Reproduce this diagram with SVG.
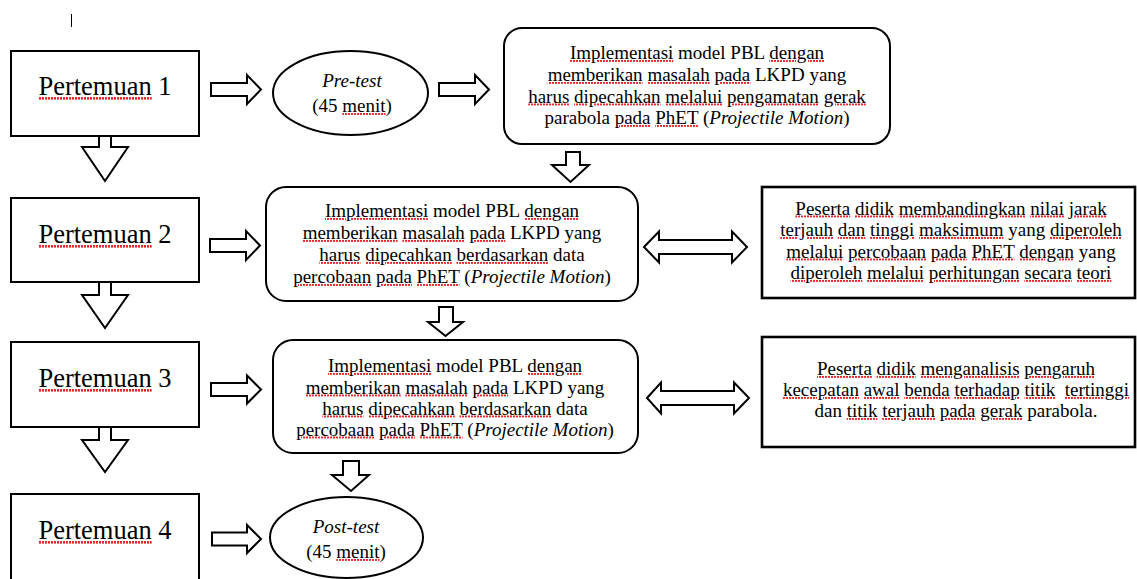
<svg xmlns="http://www.w3.org/2000/svg" width="1137" height="579" viewBox="0 0 1137 579">
<defs>
<pattern id="wv" width="3" height="600" patternUnits="userSpaceOnUse"><rect x="0" y="0" width="2" height="600" fill="#e8292b"/></pattern>
</defs>
<style>
.box{fill:#fff;stroke:#000;stroke-width:2}
.rbox{fill:#fff;stroke:#000;stroke-width:2.6}
.arr{fill:#fff;stroke:#000;stroke-width:2;stroke-linejoin:miter}
text{font-size:19px;text-anchor:middle;fill:#000}
.big{font-size:26.5px}
.i{font-style:italic}
.u{fill:url(#wv);text-decoration:underline}
.k{fill:#000}
</style>
<rect width="1137" height="579" fill="#fff"/>
<line x1="71.5" y1="14" x2="71.5" y2="27" stroke="#000" stroke-width="1"/>
<g id="connectors">
<polygon class="arr" points="99,136 111,136 111,147 128,147 105,181 82,147 99,147"/>
<polygon class="arr" points="99,282 111,282 111,295 128,295 105,328 82,295 99,295"/>
<polygon class="arr" points="99,427 111,427 111,440 128,440 105,472 82,440 99,440"/>
<polygon class="arr" points="211,83 247,83 247,75 261,89.5 247,104 247,96 211,96"/>
<polygon class="arr" points="439,83 475,83 475,75 489,89.5 475,104 475,96 439,96"/>
<polygon class="arr" points="210,239 246,239 246,231 260,245.5 246,260 246,252 210,252"/>
<polygon class="arr" points="211,383 247,383 247,375.5 261,389.5 247,403.5 247,396 211,396"/>
<polygon class="arr" points="212,532.5 247,532.5 247,525 261,539 247,553 247,545.5 212,545.5"/>
<polygon class="arr" points="566,152 580,152 580,165 589,165 570.5,182 552,165 566,165"/>
<polygon class="arr" points="439,307 453,307 453,322 463,322 445.5,336 428,322 439,322"/>
<polygon class="arr" points="343,461 359,461 359,475 369,475 351,491 332,475 343,475"/>
<polygon class="arr" points="644,247 659,231.5 659,240 732,240 732,231.5 747,247 732,262.5 732,254 659,254 659,262.5"/>
<polygon class="arr" points="647,398 661,382.5 661,391 734,391 734,382.5 749,398 734,413.5 734,405 661,405 661,413.5"/>
</g>
<g font-family="Liberation Serif, Tinos, Times New Roman, serif">
<g id="pertemuan1">
<rect class="box" x="11" y="51" width="188" height="85"/>
<text class="big" x="105" y="95"><tspan class="u"><tspan class="k">Pertemuan</tspan></tspan> 1</text>
</g>
<g id="pertemuan2">
<rect class="box" x="11" y="198" width="188" height="84"/>
<text class="big" x="105" y="243"><tspan class="u"><tspan class="k">Pertemuan</tspan></tspan> 2</text>
</g>
<g id="pertemuan3">
<rect class="box" x="11" y="342" width="188" height="85"/>
<text class="big" x="105" y="387"><tspan class="u"><tspan class="k">Pertemuan</tspan></tspan> 3</text>
</g>
<g id="pertemuan4">
<rect class="box" x="11" y="494" width="188" height="92"/>
<text class="big" x="105" y="539"><tspan class="u"><tspan class="k">Pertemuan</tspan></tspan> 4</text>
</g>
<g id="pretest">
<ellipse class="box" cx="350.5" cy="93" rx="77.5" ry="42"/>
<text class="i" x="352" y="87">Pre-test</text>
<text x="352" y="112">(45 <tspan class="u"><tspan class="k">menit</tspan></tspan>)</text>
</g>
<g id="pbl1">
<rect class="box" x="504" y="28" width="386" height="116" rx="18"/>
<text x="697" y="59"><tspan class="u"><tspan class="k">Implementasi</tspan></tspan> model PBL <tspan class="u"><tspan class="k">dengan</tspan></tspan></text>
<text x="697" y="81"><tspan class="u"><tspan class="k">memberikan</tspan></tspan> <tspan class="u"><tspan class="k">masalah</tspan></tspan> <tspan class="u"><tspan class="k">pada</tspan></tspan> LKPD yang</text>
<text x="697" y="102.5"><tspan class="u"><tspan class="k">harus</tspan></tspan> <tspan class="u"><tspan class="k">dipecahkan</tspan></tspan> <tspan class="u"><tspan class="k">melalui</tspan></tspan> <tspan class="u"><tspan class="k">pengamatan</tspan></tspan> <tspan class="u"><tspan class="k">gerak</tspan></tspan></text>
<text x="697" y="124">parabola <tspan class="u"><tspan class="k">pada</tspan></tspan> <tspan class="u"><tspan class="k">PhET</tspan></tspan> (<tspan class="i">Projectile Motion</tspan>)</text>
</g>
<g id="pbl2">
<rect class="box" x="266" y="187" width="372" height="114" rx="20"/>
<text x="452" y="217"><tspan class="u"><tspan class="k">Implementasi</tspan></tspan> model PBL <tspan class="u"><tspan class="k">dengan</tspan></tspan></text>
<text x="452" y="239"><tspan class="u"><tspan class="k">memberikan</tspan></tspan> <tspan class="u"><tspan class="k">masalah</tspan></tspan> <tspan class="u"><tspan class="k">pada</tspan></tspan> LKPD yang</text>
<text x="452" y="261"><tspan class="u"><tspan class="k">harus</tspan></tspan> <tspan class="u"><tspan class="k">dipecahkan</tspan></tspan> <tspan class="u"><tspan class="k">berdasarkan</tspan></tspan> data</text>
<text x="452" y="283"><tspan class="u"><tspan class="k">percobaan</tspan></tspan> <tspan class="u"><tspan class="k">pada</tspan></tspan> <tspan class="u"><tspan class="k">PhET</tspan></tspan> (<tspan class="i">Projectile Motion</tspan>)</text>
</g>
<g id="pbl3">
<rect class="box" x="273" y="340" width="365" height="113" rx="20"/>
<text x="455" y="372"><tspan class="u"><tspan class="k">Implementasi</tspan></tspan> model PBL <tspan class="u"><tspan class="k">dengan</tspan></tspan></text>
<text x="455" y="393.5"><tspan class="u"><tspan class="k">memberikan</tspan></tspan> <tspan class="u"><tspan class="k">masalah</tspan></tspan> <tspan class="u"><tspan class="k">pada</tspan></tspan> LKPD yang</text>
<text x="455" y="414.5"><tspan class="u"><tspan class="k">harus</tspan></tspan> <tspan class="u"><tspan class="k">dipecahkan</tspan></tspan> <tspan class="u"><tspan class="k">berdasarkan</tspan></tspan> data</text>
<text x="455" y="435.5"><tspan class="u"><tspan class="k">percobaan</tspan></tspan> <tspan class="u"><tspan class="k">pada</tspan></tspan> <tspan class="u"><tspan class="k">PhET</tspan></tspan> (<tspan class="i">Projectile Motion</tspan>)</text>
</g>
<g id="compare">
<rect class="rbox" x="762" y="187" width="373" height="111"/>
<text x="951" y="214.5"><tspan class="u"><tspan class="k">Peserta</tspan></tspan> <tspan class="u"><tspan class="k">didik</tspan></tspan> <tspan class="u"><tspan class="k">membandingkan</tspan></tspan> <tspan class="u"><tspan class="k">nilai</tspan></tspan> <tspan class="u"><tspan class="k">jarak</tspan></tspan></text>
<text x="951" y="236"><tspan class="u"><tspan class="k">terjauh</tspan></tspan> <tspan class="u"><tspan class="k">dan</tspan></tspan> <tspan class="u"><tspan class="k">tinggi</tspan></tspan> <tspan class="u"><tspan class="k">maksimum</tspan></tspan> yang <tspan class="u"><tspan class="k">diperoleh</tspan></tspan></text>
<text x="951" y="257.5"><tspan class="u"><tspan class="k">melalui</tspan></tspan> <tspan class="u"><tspan class="k">percobaan</tspan></tspan> <tspan class="u"><tspan class="k">pada</tspan></tspan> <tspan class="u"><tspan class="k">PhET</tspan></tspan> <tspan class="u"><tspan class="k">dengan</tspan></tspan> yang</text>
<text x="951" y="279"><tspan class="u"><tspan class="k">diperoleh</tspan></tspan> <tspan class="u"><tspan class="k">melalui</tspan></tspan> <tspan class="u"><tspan class="k">perhitungan</tspan></tspan> <tspan class="u"><tspan class="k">secara</tspan></tspan> <tspan class="u"><tspan class="k">teori</tspan></tspan></text>
</g>
<g id="analyze">
<rect class="rbox" x="762" y="337" width="373" height="110"/>
<text x="956" y="375"><tspan class="u"><tspan class="k">Peserta</tspan></tspan> <tspan class="u"><tspan class="k">didik</tspan></tspan> <tspan class="u"><tspan class="k">menganalisis</tspan></tspan> <tspan class="u"><tspan class="k">pengaruh</tspan></tspan></text>
<text x="956" y="396"><tspan class="u"><tspan class="k">kecepatan</tspan></tspan> <tspan class="u"><tspan class="k">awal</tspan></tspan> <tspan class="u"><tspan class="k">benda</tspan></tspan> <tspan class="u"><tspan class="k">terhadap</tspan></tspan> <tspan class="u"><tspan class="k">titik</tspan></tspan>&#160; <tspan class="u"><tspan class="k">tertinggi</tspan></tspan></text>
<text x="956" y="417">dan <tspan class="u"><tspan class="k">titik</tspan></tspan> <tspan class="u"><tspan class="k">terjauh</tspan></tspan> <tspan class="u"><tspan class="k">pada</tspan></tspan> <tspan class="u"><tspan class="k">gerak</tspan></tspan> parabola.</text>
</g>
<g id="posttest">
<ellipse class="box" cx="346.5" cy="537.5" rx="76.5" ry="40.5"/>
<text class="i" x="346" y="533">Post-test</text>
<text x="346" y="558">(45 <tspan class="u"><tspan class="k">menit</tspan></tspan>)</text>
</g>
</g>
</svg>
